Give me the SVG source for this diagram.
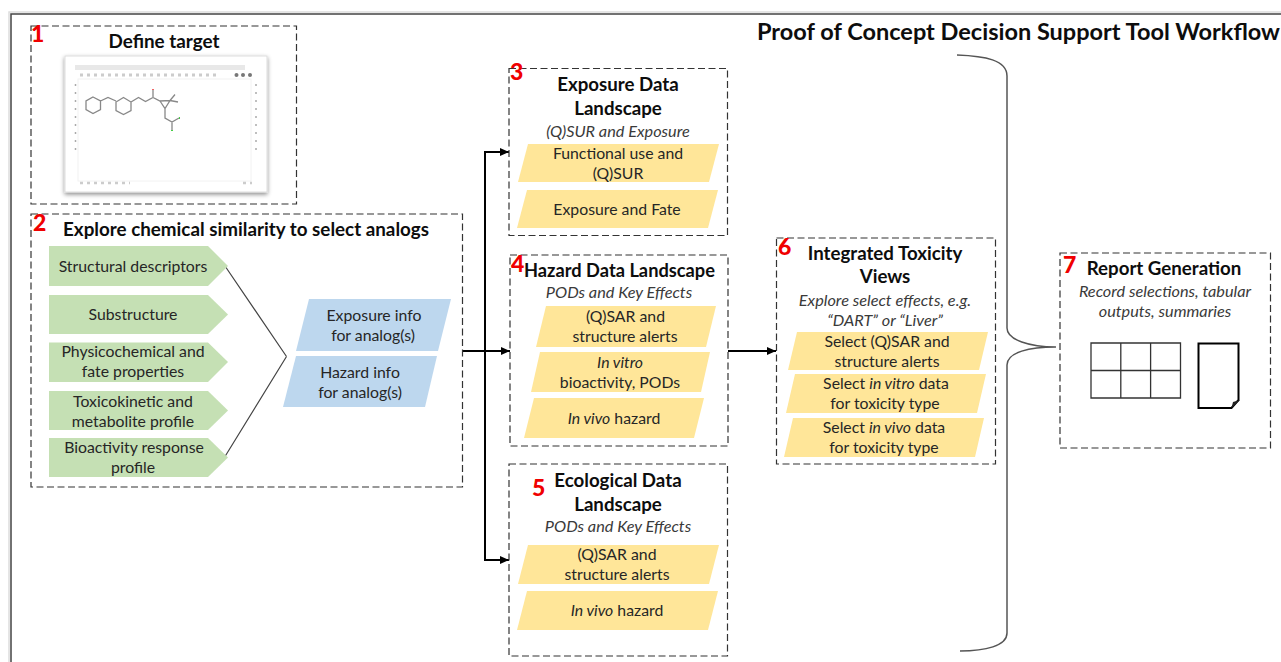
<svg xmlns="http://www.w3.org/2000/svg" width="1281" height="662" viewBox="0 0 1281 662">
<style>
text{font-family:"Lato","Carlito","Liberation Sans",sans-serif;text-anchor:middle}
.box{fill:none;stroke:#333;stroke-width:1.2;stroke-dasharray:7 3.5}
.h{font-size:18.7px;font-weight:700;fill:#0d0d0d}
.b{font-size:15.8px;fill:#262626}
.i{font-size:16.3px;font-style:italic;fill:#3a3a3a}
.n{font-size:23px;font-weight:900;fill:#f00000;text-anchor:start}
.g{fill:#c5e0b4}.bl{fill:#bdd7ee}.y{fill:#ffe699}
.c{fill:none;stroke:#000;stroke-width:2}
.m{fill:none;stroke:#888;stroke-width:1.3}
</style>
<defs>
<marker id="a" markerUnits="userSpaceOnUse" markerWidth="10" markerHeight="10" refX="9" refY="5" orient="auto"><path d="M0 1L9 5L0 9Z" fill="#000"/></marker>
<filter id="sh" x="-5%" y="-5%" width="110%" height="112%"><feDropShadow dx="0" dy="2" stdDeviation="2" flood-color="#000" flood-opacity=".45"/></filter>
<filter id="bl" x="-5%" y="-5%" width="110%" height="110%"><feGaussianBlur stdDeviation=".7"/></filter>
</defs>
<path d="M11 662V14H1281" fill="none" stroke="#444" stroke-width="1.5"/>
<path d="M9 662V12H1281" fill="none" stroke="#ddd" stroke-width="1.5"/>
<text x="1018.500" y="40" style="font-size:22.5px;font-weight:700;fill:#0d0d0d" textLength="523" lengthAdjust="spacingAndGlyphs">Proof of Concept Decision Support Tool Workflow</text>

<g id="connectors">
<path d="M286.500 356.500L225 266M286.500 356.500L225 456.500" fill="none" stroke="#444" stroke-width="1.2"/>
<path class="c" d="M462 351H510" marker-end="url(#a)"/>
<path class="c" d="M485 351V152H509" marker-end="url(#a)"/>
<path class="c" d="M485 351V560H509" marker-end="url(#a)"/>
<path class="c" d="M728 351H776" marker-end="url(#a)"/>
<path d="M957 55C985 56 1007 60 1007 76V328C1007 340 1030 347 1056 347C1030 347 1007 352 1007 365V633C1007 646 985 651 960 651" fill="none" stroke="#555" stroke-width="1.5"/>
</g>

<g id="node1">
<rect class="box" x="31" y="26" width="265.500" height="178"/>
<text class="n" x="31" y="42">1</text>
<text class="h" x="164" y="48" textLength="111" lengthAdjust="spacingAndGlyphs">Define target</text>
<rect x="65" y="56" width="202" height="136" fill="#fff" stroke="#ddd" filter="url(#sh)"/>
<g filter="url(#bl)">
<rect x="75" y="65" width="170" height="5" fill="#e8e8e8"/>
<path d="M80 75H220" stroke="#ccc" stroke-width="3" stroke-dasharray="3 4"/>
<circle cx="236.500" cy="75" r="2" fill="#777"/><circle cx="243" cy="75" r="2" fill="#777"/><circle cx="250" cy="75" r="2" fill="#777"/>
<path d="M75.500 84V154M256 84V152" stroke="#aaa" stroke-width="1.500" stroke-dasharray="2 6"/>
<rect x="78" y="79" width="173" height="102" fill="none" stroke="#f2f2f2"/>
<path d="M80 183H130M243 183H252" stroke="#ccc" stroke-width="2.500" stroke-dasharray="3 4"/>
<path class="m" d="M93 97L100.500 101V109.500L93 113.500L86 109.500V101ZM100.500 101L108 97.500L116 101M123.500 97.500L131 102V110.500L123.500 114.500L116 110.500V102ZM131 102L138.500 97.500L145.500 101.500L153 97.500L160 101L170 100.500L165 108.500L160 101M153 97.500V90M170 100.500L175 94.500M170 100.500L178 102M165 108.500V118L172 122L179 118M172 122V130"/>
<path d="M153 90V89" stroke="#e66" stroke-width="2"/>
<path d="M179 118H180M172 130V131" stroke="#4c4" stroke-width="2"/>
</g>
</g>

<g id="node2">
<rect class="box" x="31" y="214" width="431.500" height="273"/>
<text class="n" x="33" y="231">2</text>
<text class="h" x="246" y="236" textLength="366" lengthAdjust="spacingAndGlyphs">Explore chemical similarity to select analogs</text>
<path class="g" d="M49 246H208L228 266L208 286H49Z"/>
<path class="g" d="M49 295H208L228 314.500L208 334H49Z"/>
<path class="g" d="M49 342.500H208L228 362L208 382H49Z"/>
<path class="g" d="M49 391H208L228 410.500L208 430H49Z"/>
<path class="g" d="M49 438H208L228 457.500L208 477H49Z"/>
<text class="b" x="133" y="271.500">Structural descriptors</text>
<text class="b" x="133" y="320">Substructure</text>
<text class="b" x="133" y="357">Physicochemical and</text>
<text class="b" x="133" y="377">fate properties</text>
<text class="b" x="133" y="406.500">Toxicokinetic and</text>
<text class="b" x="133" y="426.500">metabolite profile</text>
<text class="b" x="134" y="453">Bioactivity response</text>
<text class="b" x="133" y="473">profile</text>
<path class="bl" d="M309 299H451L438 351H296Z"/>
<path class="bl" d="M296 356H437L425 407H283Z"/>
<text class="b" x="374" y="320.500">Exposure info</text>
<text class="b" x="373" y="340.500">for analog(s)</text>
<text class="b" x="360" y="377.500">Hazard info</text>
<text class="b" x="360" y="397.500">for analog(s)</text>
</g>

<g id="node3">
<rect class="box" x="509" y="68.500" width="218.500" height="167"/>
<text class="n" x="510" y="80">3</text>
<text class="h" x="618" y="91">Exposure Data</text>
<text class="h" x="618" y="115">Landscape</text>
<text class="i" x="618" y="136.500">(Q)SUR and Exposure</text>
<path class="y" d="M528 144H719L709 182H518Z"/>
<path class="y" d="M527 190H718L708 228H517Z"/>
<text class="b" x="618" y="159">Functional use and</text>
<text class="b" x="618" y="179">(Q)SUR</text>
<text class="b" x="617" y="215">Exposure and Fate</text>
</g>

<g id="node4">
<rect class="box" x="510" y="255" width="218" height="191"/>
<text class="n" x="511" y="272">4</text>
<text class="h" x="619.500" y="276.500" textLength="191" lengthAdjust="spacingAndGlyphs">Hazard Data Landscape</text>
<text class="i" x="619" y="297.500">PODs and Key Effects</text>
<path class="y" d="M546 306H716L706 347H536Z"/>
<path class="y" d="M540 352H710L701 392H531Z"/>
<path class="y" d="M534 398H704L694 438H524Z"/>
<text class="b" x="625.500" y="322">(Q)SAR and</text>
<text class="b" x="625" y="342">structure alerts</text>
<text class="b" x="620" y="368" font-style="italic">In vitro</text>
<text class="b" x="620" y="388">bioactivity, PODs</text>
<text class="b" x="614" y="424"><tspan font-style="italic">In vivo</tspan> hazard</text>
</g>

<g id="node5">
<rect class="box" x="509" y="464" width="218.500" height="192"/>
<text class="n" x="532" y="496">5</text>
<text class="h" x="618" y="487">Ecological Data</text>
<text class="h" x="618" y="511">Landscape</text>
<text class="i" x="618" y="532">PODs and Key Effects</text>
<path class="y" d="M528 545H719L709 584H518Z"/>
<path class="y" d="M527 591H718L708 630H517Z"/>
<text class="b" x="617" y="560">(Q)SAR and</text>
<text class="b" x="617" y="580">structure alerts</text>
<text class="b" x="617" y="616"><tspan font-style="italic">In vivo</tspan> hazard</text>
</g>

<g id="node6">
<rect class="box" x="776.500" y="238" width="219" height="226"/>
<text class="n" x="778" y="255">6</text>
<text class="h" x="885" y="260">Integrated Toxicity</text>
<text class="h" x="885" y="283">Views</text>
<text class="i" x="885" y="306">Explore select effects, e.g.</text>
<text class="i" x="885" y="326">“DART” or “Liver”</text>
<path class="y" d="M797 332H988L979 370H788Z"/>
<path class="y" d="M795 374H986L977 413H786Z"/>
<path class="y" d="M793 418H984L975 457H784Z"/>
<text class="b" x="887" y="347">Select (Q)SAR and</text>
<text class="b" x="887" y="367">structure alerts</text>
<text class="b" x="886" y="389">Select <tspan font-style="italic">in vitro</tspan> data</text>
<text class="b" x="885" y="409">for toxicity type</text>
<text class="b" x="884" y="433">Select <tspan font-style="italic">in vivo</tspan> data</text>
<text class="b" x="884" y="453">for toxicity type</text>
</g>

<g id="node7">
<rect class="box" x="1060" y="253" width="210.500" height="195"/>
<text class="n" x="1063" y="273">7</text>
<text class="h" x="1164" y="275">Report Generation</text>
<text class="i" x="1165" y="297">Record selections, tabular</text>
<text class="i" x="1165" y="317">outputs, summaries</text>
<path d="M1091 343H1180.500V398H1091ZM1120.800 343V398M1150.600 343V398M1091 370.500H1180.500" fill="none" stroke="#333" stroke-width="1.300"/>
<path d="M1198.500 343.500H1238.500V400L1231.500 408H1198.500Z" fill="#fff" stroke="#000" stroke-width="2"/>
<path d="M1231.500 408L1233 402L1240 400Z" fill="#222"/>
</g>
</svg>
